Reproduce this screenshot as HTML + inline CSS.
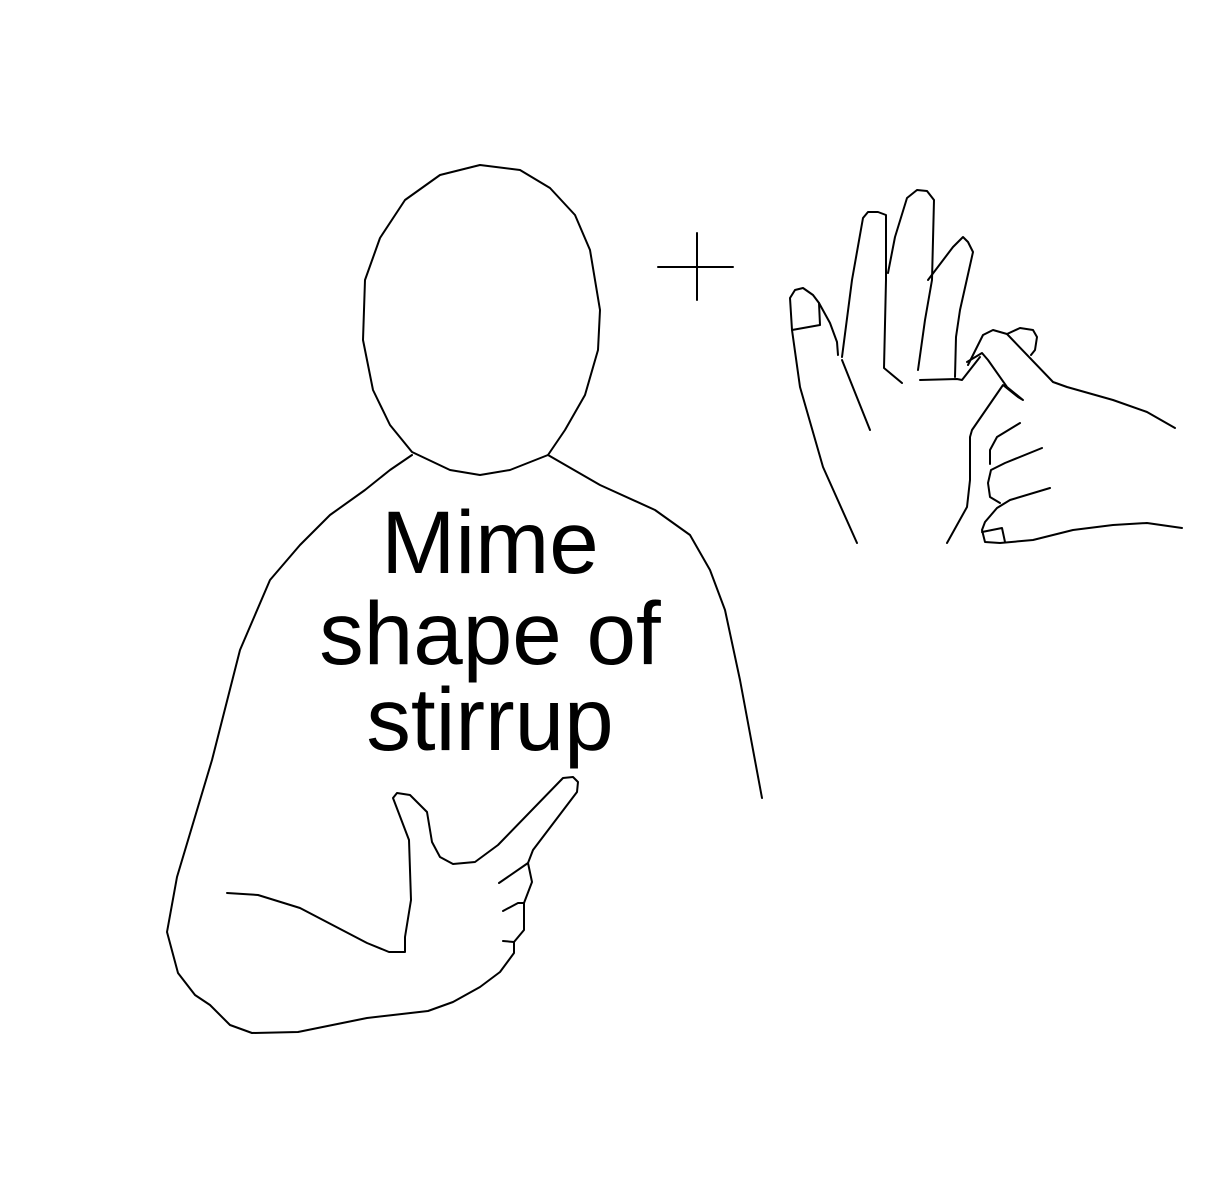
<!DOCTYPE html>
<html>
<head>
<meta charset="utf-8">
<style>
html,body{margin:0;padding:0;background:#fff;}
svg{display:block;}
text{font-family:"Liberation Sans",sans-serif;font-size:89px;fill:#000;}
</style>
</head>
<body>
<svg width="1226" height="1200" viewBox="0 0 1226 1200">
<rect width="1226" height="1200" fill="#fff"/>
<g fill="none" stroke="#000" stroke-width="2" stroke-linejoin="round" stroke-linecap="round">
  <path d="M480,165 L520,170 L550,188 L575,215 L590,250 L600,310 L598,350 L585,395 L565,430 L548,455 L510,470 L480,475 L450,470 L412,452 L390,425 L373,390 L363,340 L365,280 L380,238 L405,200 L440,175 Z"/>
  <path d="M412,455 L390,470 L365,490 L330,515 L300,545 L270,580 L240,650 L212,760 L177,877 L167,932 L178,973 L195,995 L210,1005 L230,1025 L252,1033 L298,1032 L367,1018 L428,1011 L453,1002 L480,987 L500,972 L514,953 L514,942 L524,930 L524,903 L532,882 L528,863 L533,850 L577,792 L578,782 L573,777 L563,778 L498,845 L475,862 L453,864 L440,857 L432,842 L427,812 L410,795 L397,793 L393,798 L409,840 L411,900 L405,937 L405,952 L389,952 L367,943 L300,908 L258,895 L227,893"/>
  <path d="M499,883 L528,863"/>
  <path d="M503,911 L518,903 L524,903"/>
  <path d="M503,941 L514,942"/>
  <path d="M548,455 L600,485 L655,510 L690,535 L710,570 L725,610 L740,680 L762,798"/>
  <path d="M658,267 L733,267 M697,233 L697,300"/>
  <path d="M857,543 L823,467 L800,387 L792,330 L790,298 L795,290 L803,288 L813,295 L819,303 L830,323 L837,342 L838,355"/>
  <path d="M792,330 L820,325 L819,303"/>
  <path d="M842,360 L860,405 L870,430"/>
  <path d="M842,357 L852,280 L863,218 L868,212 L878,212 L886,215 L886,280 L884,368 L902,383"/>
  <path d="M888,273 L895,237 L907,198 L917,190 L927,191 L934,200 L932,280 L925,320 L918,370"/>
  <path d="M928,280 L953,247 L963,237 L968,242 L973,252 L960,310 L956,337 L955,377"/>
  <path d="M920,380 L957,379 L962,380 L980,357"/>
  <path d="M968,365 L983,335 L993,330 L1007,334 L1053,382 L1067,387 L1113,400 L1147,412 L1175,428"/>
  <path d="M1007,334 L1020,328 L1033,330 L1037,337 L1035,350 L1031,355"/>
  <path d="M967,362 L982,353 L988,360 L1007,387 L1023,400 L1018,397 L1003,385 L972,430 L970,437 L970,480 L967,507 L947,543"/>
  <path d="M1020,423 L997,437 L990,450 L990,464"/>
  <path d="M1042,448 L1005,463 L991,470 L988,483 L990,497 L1000,503"/>
  <path d="M1050,488 L1010,500 L997,508 L985,522 L982,530 L985,542 L1000,543 L1033,540 L1073,530 L1113,525 L1147,523 L1182,528"/>
  <path d="M982,532 L1002,528 L1005,542"/>
</g>
<text x="490" y="573" text-anchor="middle">Mime</text>
<text x="490" y="664" text-anchor="middle">shape of</text>
<text x="490" y="750" text-anchor="middle">stirrup</text>
</svg>
</body>
</html>
